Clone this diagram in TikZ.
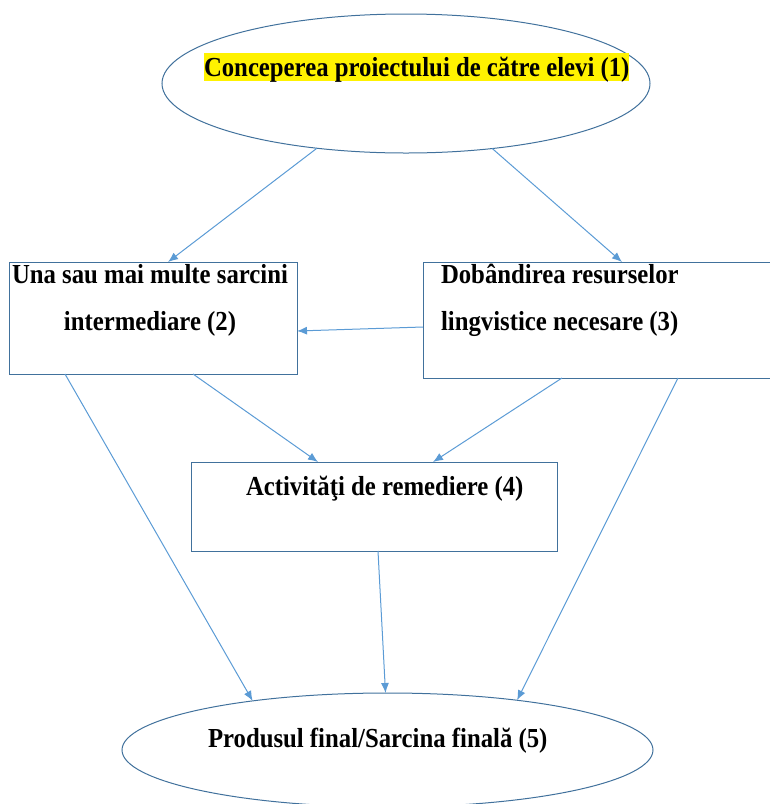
\documentclass[tikz,border=0pt]{standalone}
\usepackage{fontspec}
\setmainfont{Liberation Serif}[FakeStretch=0.9]
\usepackage{tikz}
\usetikzlibrary{arrows.meta,shapes.geometric}
\definecolor{shapeline}{HTML}{41719C}
\definecolor{arrowline}{HTML}{5B9BD5}

\begin{document}
\begin{tikzpicture}[x=1pt,y=-1pt,
		every node/.style={inner sep=0pt,outer sep=0pt},
		oval/.style={draw=shapeline,ellipse,line width=1pt},
		box/.style={draw=shapeline,rectangle,line width=1pt},
		lbl/.style={font=\fontsize{27.5}{47}\selectfont\bfseries},
		link/.style={draw=arrowline,line width=1pt,-{Latex[length=10pt,width=8pt]}}]
		\useasboundingbox (0,0) rectangle (770,804);
		\clip (0,0) rectangle (770,804);
		
		% shapes
		\node[oval,minimum width=488pt,minimum height=139pt] (e1) at (406,83.5) {};
		\node[box,minimum width=288pt,minimum height=112pt] (b2) at (153,318) {};
		\node[box,minimum width=377pt,minimum height=116pt] (b3) at (611.5,320) {};
		\node[box,minimum width=366pt,minimum height=89pt] (b4) at (374,506.5) {};
		\node[oval,minimum width=531pt,minimum height=114pt] (e5) at (387.5,750) {};
		
		% texts
		\node[lbl,fill=yellow,text height=23pt,text depth=4.5pt,anchor=base west] (t1) at (204,76) {Conceperea proiectului de către elevi (1)};
		\node[lbl,align=center,anchor=base] (t2) at (150,330) {Una sau mai multe sarcini\\intermediare (2)};
		\node[lbl,align=left,anchor=base west] (t3) at (441,330) {Dobândirea resurselor\\lingvistice necesare (3)};
		\node[lbl,anchor=base west] (t4) at (246,495) {Activităţi de remediere (4)};
		\node[lbl,anchor=base west] (t5) at (208,747) {Produsul final/Sarcina finală (5)};
		
		% arrows
		\draw[link] (e1.216.5) -- ([xshift=15pt]b2.north);
		\draw[link] (e1.323.4) -- ([xshift=10.5pt]b3.north);
		\draw[link] ([yshift=-7pt]b3.west) -- ([yshift=-13pt]b2.east);
		\draw[link] ([xshift=40pt]b2.south) -- ([xshift=-56pt]b4.north);
		\draw[link] ([xshift=-49.5pt]b3.south) -- ([xshift=59pt]b4.north);
		\draw[link] ([xshift=-88pt]b2.south) -- (e5.160);
		\draw[link] ([xshift=4pt]b4.south) -- (e5.92);
		\draw[link] ([xshift=66.5pt]b3.south) -- (e5.21.6);
	\end{tikzpicture}
\end{document}
